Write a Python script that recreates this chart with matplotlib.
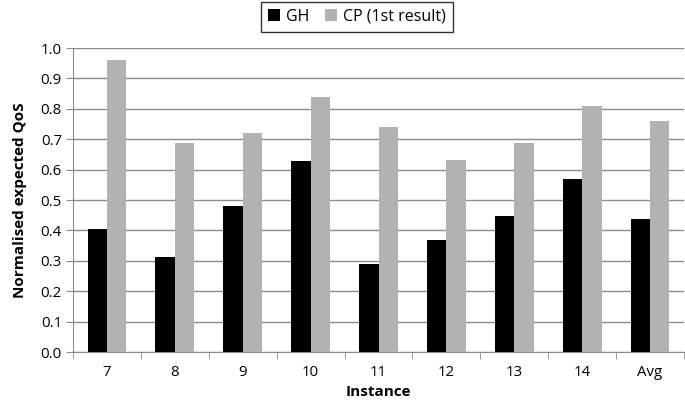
import numpy as np
import matplotlib
matplotlib.use("Agg")
import matplotlib.pyplot as plt

# data
instances = ["7", "8", "9", "10", "11", "12", "13", "14", "Avg"]
gh = [0.403, 0.311, 0.481, 0.627, 0.289, 0.368, 0.447, 0.570, 0.437]
cp = [0.960, 0.689, 0.720, 0.840, 0.740, 0.630, 0.689, 0.810, 0.759]
yticks = [0.0, 0.1, 0.2, 0.3, 0.4, 0.5, 0.6, 0.7, 0.8, 0.9, 1.0]

plt.rcParams['font.family'] = ['Open Sans', 'DejaVu Sans']

fig = plt.figure(figsize=(6.85, 4.08), dpi=100)
ax = fig.add_axes([73/685, 1 - 352/408, (684-73)/685, (352-48)/408])

x = np.arange(len(instances))
w = 0.285
ax.bar(x - w/2, gh, w, color='black', label='GH', zorder=3)
ax.bar(x + w/2, cp, w, color='#b2b2b2', label='CP (1st result)', zorder=3)

ax.set_xlim(-0.5, len(instances) - 0.5)
ax.set_ylim(0, 1.0)
ax.set_yticks(yticks)
ax.set_yticklabels([f"{t:.1f}" for t in yticks], fontsize=10.8)
ax.yaxis.grid(True, color='#8c8c8c', linewidth=1, zorder=0)

# category labels centred, tick marks on category boundaries
ax.set_xticks(x)
ax.set_xticklabels(instances, fontsize=10.8)
ax.tick_params(axis='x', length=0, pad=9)
ax.set_xticks(np.arange(len(instances) + 1) - 0.5, minor=True)
ax.tick_params(axis='x', which='minor', length=5, color='#8c8c8c')
ax.tick_params(axis='y', length=5, color='#8c8c8c', pad=3)

for s in ['top', 'right']:
    ax.spines[s].set_visible(False)
for s in ['left', 'bottom']:
    ax.spines[s].set_color('#8c8c8c')

ax.set_xlabel('Instance', fontsize=11, fontweight='bold', labelpad=4)
ax.set_ylabel('Normalised expected QoS', fontsize=11, fontweight='bold', labelpad=10)

leg = fig.legend(loc='upper center', bbox_to_anchor=(357/685, 1.0), ncol=2,
                 fontsize=11.5, frameon=True, fancybox=False, edgecolor='black',
                 handlelength=0.75, handleheight=0.75, handletextpad=0.35,
                 columnspacing=1.0, borderpad=0.45, borderaxespad=0.1)
leg.get_frame().set_linewidth(1.0)

fig.savefig('out.png', dpi=100)
